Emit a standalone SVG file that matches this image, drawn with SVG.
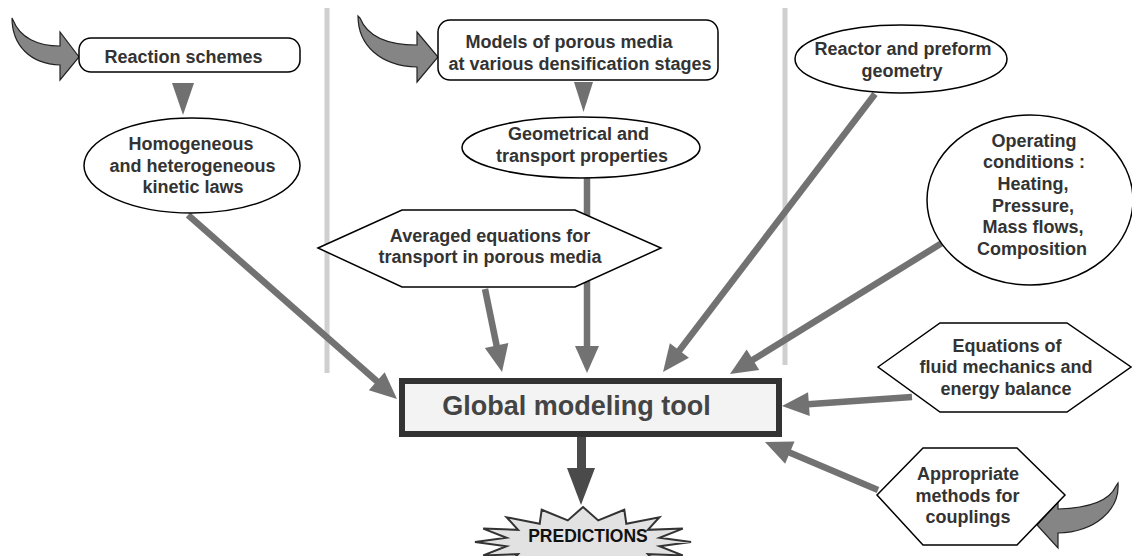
<svg xmlns="http://www.w3.org/2000/svg" width="1132" height="556" viewBox="0 0 1132 556">
<style>
.t{font-family:"Liberation Sans",Arial,sans-serif;font-weight:bold;font-size:18px;fill:#333;text-anchor:middle}
.shape{fill:#fff;stroke:#000;stroke-width:1.5}
.conn{stroke:#727272;stroke-width:6.5;fill:none;marker-end:url(#ah)}
.sep{stroke:#cfcfcf;stroke-width:5}
.curv{fill:#858585;stroke:#222;stroke-width:1.2}
.tri{fill:#707070}
</style>
<defs>
<marker id="ah" markerUnits="userSpaceOnUse" markerWidth="30" markerHeight="26" viewBox="0 -13 28 26" refX="1" refY="0" orient="auto">
<path d="M0,-12 L27,0 L0,12 Z" fill="#727272"/>
</marker>
</defs>
<rect width="1132" height="556" fill="#fff"/>

<g id="separators">
<line class="sep" x1="327" y1="8" x2="327" y2="373"/>
<line class="sep" x1="785" y1="8" x2="785" y2="365"/>
</g>

<g id="connectors">
<line class="conn" x1="188" y1="215" x2="377.5" y2="381.8"/>
<line class="conn" x1="485" y1="289" x2="496.8" y2="346.5"/>
<line class="conn" x1="587" y1="178" x2="587" y2="347"/>
<line class="conn" x1="875" y1="94" x2="678.8" y2="351.3"/>
<line class="conn" x1="942" y1="243" x2="752.1" y2="360.3"/>
<line class="conn" x1="912" y1="397" x2="807.9" y2="404.2"/>
<line class="conn" x1="878" y1="490" x2="788.9" y2="452.2"/>
<polygon class="tri" points="172,83 194,83 183,115"/>
<polygon class="tri" points="574,82 593,82 583.5,112"/>
<rect x="577" y="437" width="9" height="32" fill="#4a4a4a"/>
<polygon points="567,468 595,468 581,505" fill="#4a4a4a"/>
<path class="curv" d="M12,18 C12,45 30,64 60,65 L60,80 L79,57 L60,32 L60,46 C38,46 20,38 13,20 Z"/>
<path class="curv" d="M358,16 C358,45 380,66 417,67 L417,82 L438,57 L417,32 L417,45 C390,45 368,38 360,18 Z"/>
<path class="curv" d="M1118,483 C1120,510 1095,532 1058,533 L1058,548 L1037,525 L1058,502 L1058,509 C1090,508 1110,500 1116,486 Z"/>
</g>

<g id="reaction-schemes">
<rect class="shape" x="79" y="38" width="221" height="34" rx="12"/>
<text class="t" x="183.5" y="63">Reaction schemes</text>
</g>

<g id="kinetic-laws">
<ellipse class="shape" cx="192" cy="165.5" rx="108" ry="47.5"/>
<text class="t" x="191" y="150">Homogeneous</text>
<text class="t" x="192.5" y="172">and heterogeneous</text>
<text class="t" x="193" y="193">kinetic laws</text>
</g>

<g id="porous-models">
<rect class="shape" x="438" y="20" width="280" height="60" rx="12"/>
<text class="t" x="569" y="48">Models of porous media</text>
<text class="t" x="580" y="70">at various densification stages</text>
</g>

<g id="geom-properties">
<ellipse class="shape" cx="581" cy="147.5" rx="119" ry="30.5"/>
<text class="t" x="578.5" y="140">Geometrical and</text>
<text class="t" x="582" y="162">transport properties</text>
</g>

<g id="averaged-equations">
<polygon class="shape" points="318,248 402,210 575,210 661,248 575,287 402,287"/>
<text class="t" x="490" y="242">Averaged equations for</text>
<text class="t" x="490" y="263">transport in porous media</text>
</g>

<g id="reactor-geometry">
<ellipse class="shape" cx="901" cy="59" rx="106" ry="34"/>
<text class="t" x="903" y="55">Reactor and preform</text>
<text class="t" x="902" y="77">geometry</text>
</g>

<g id="operating-conditions">
<ellipse class="shape" cx="1030" cy="200" rx="103" ry="85"/>
<text class="t" x="1034" y="147">Operating</text>
<text class="t" x="1034" y="168">conditions :</text>
<text class="t" x="1033" y="190">Heating,</text>
<text class="t" x="1033" y="212">Pressure,</text>
<text class="t" x="1033" y="233">Mass flows,</text>
<text class="t" x="1032" y="255">Composition</text>
</g>

<g id="fluid-equations">
<polygon class="shape" points="878,367 940,323 1067,323 1131,367 1067,412 940,412"/>
<text class="t" x="1007" y="352">Equations of</text>
<text class="t" x="1006" y="373">fluid mechanics and</text>
<text class="t" x="1006" y="395">energy balance</text>
</g>

<g id="coupling-methods">
<polygon class="shape" points="877,495 923,448 1017,448 1065,495 1017,545 923,545"/>
<text class="t" x="968" y="480">Appropriate</text>
<text class="t" x="967.5" y="502">methods for</text>
<text class="t" x="968" y="523">couplings</text>
</g>

<g id="global-tool">
<rect x="402" y="381" width="377" height="53" fill="#f3f3f3" stroke="#333" stroke-width="6"/>
<text class="t" x="576.5" y="415" style="font-size:27px;fill:#444">Global modeling tool</text>
</g>

<g id="predictions">
<polygon points="583,507 598.2,520.4 624.3,509.7 626.3,523.7 659.4,517.3 647.9,529.8 682.8,528.6 659.5,537.7 691,542 659.5,546.3 682.8,555.4 647.9,554.2 659.4,566.7 626.3,560.3 624.3,574.3 598.2,563.6 583,577 567.8,563.6 541.7,574.3 539.7,560.3 506.6,566.7 518.1,554.2 483.2,555.4 506.5,546.3 475,542 506.5,537.7 483.2,528.6 518.1,529.8 506.6,517.3 539.7,523.7 541.7,509.7 567.8,520.4" fill="#e2e2e2" stroke="#333" stroke-width="2"/>
<text class="t" x="588" y="542" style="font-size:17.5px;fill:#111">PREDICTIONS</text>
</g>
</svg>
